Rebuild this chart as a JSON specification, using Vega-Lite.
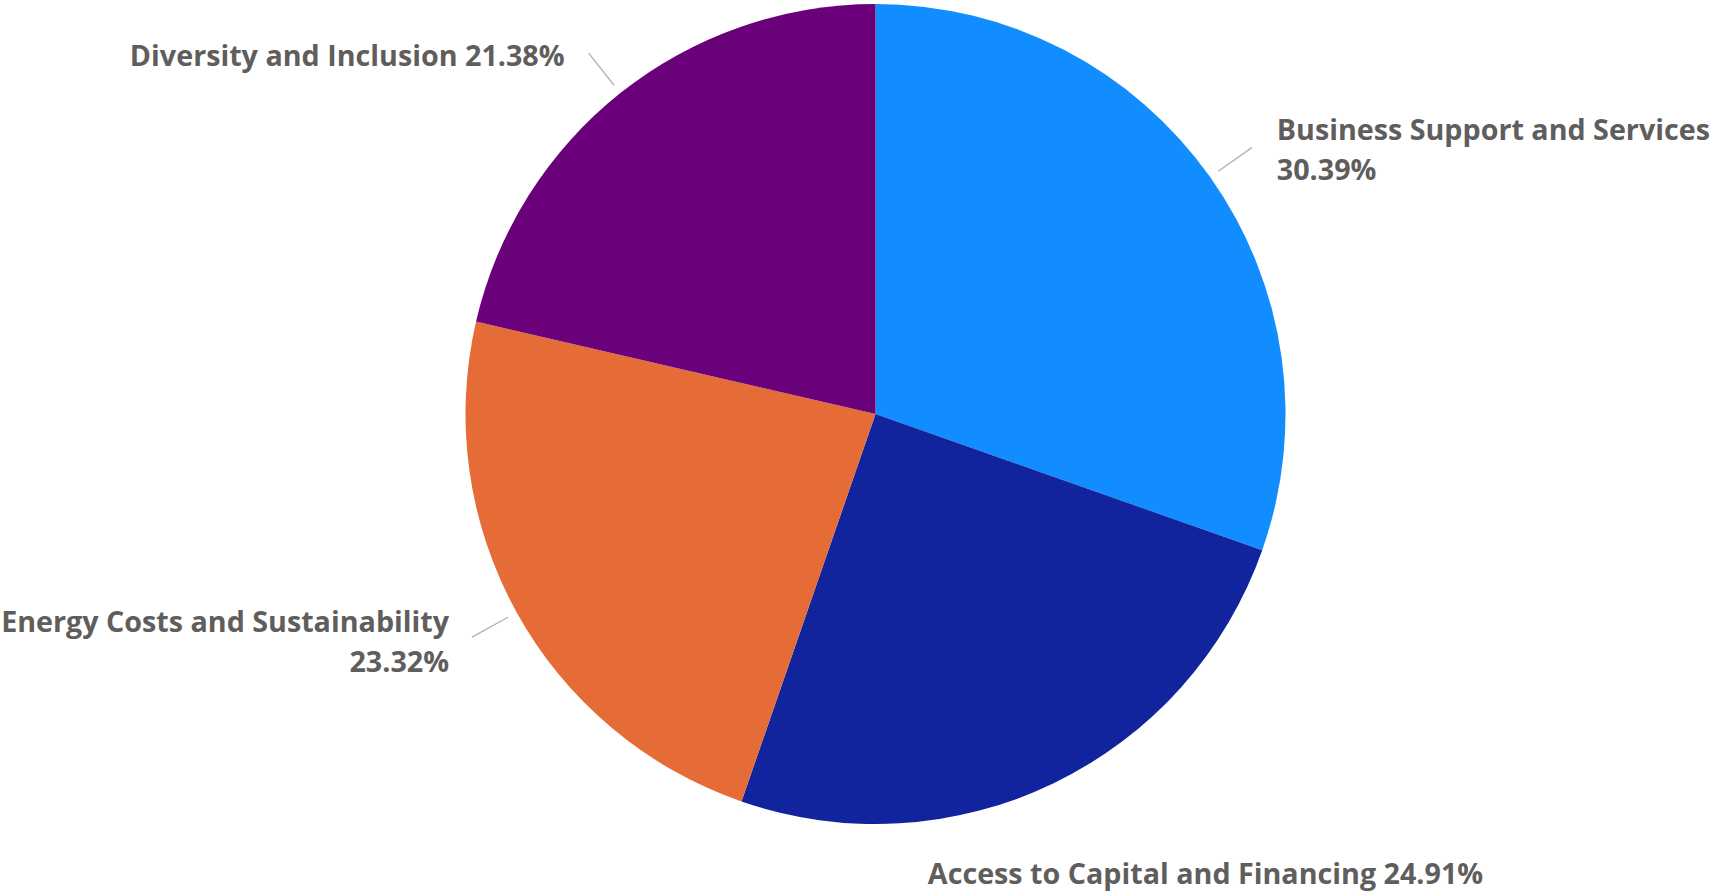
{
  "$schema": "https://vega.github.io/schema/vega-lite/v6.json",
  "width": 1681,
  "height": 828,
  "padding": {"left": 35, "top": 0, "right": 0, "bottom": 65},
  "autosize": {"type": "none"},
  "background": "white",
  "config": {"view": {"stroke": null}},
  "data": {
    "values": [
      {"category": "Business Support and Services", "share": 0.3039, "rank": 1, "label": "Business Support and Services\n30.39%"},
      {"category": "Access to Capital and Financing", "share": 0.2491, "rank": 2, "label": "Access to Capital and Financing 24.91%"},
      {"category": "Energy Costs and Sustainability", "share": 0.2332, "rank": 3, "label": "Energy Costs and Sustainability\n23.32%"},
      {"category": "Diversity and Inclusion", "share": 0.2138, "rank": 4, "label": "Diversity and Inclusion 21.38%"}
    ]
  },
  "encoding": {
    "theta": {"field": "share", "type": "quantitative", "stack": true},
    "order": {"field": "rank", "type": "quantitative", "sort": "ascending"}
  },
  "layer": [
    {
      "mark": {"type": "arc", "outerRadius": 410},
      "encoding": {
        "color": {
          "field": "category",
          "type": "nominal",
          "scale": {
            "domain": ["Business Support and Services", "Access to Capital and Financing", "Energy Costs and Sustainability", "Diversity and Inclusion"],
            "range": ["#118DFF", "#12239E", "#E66C37", "#6B007B"]
          },
          "legend": null
        }
      }
    },
    {
      "mark": {"type": "arc", "outerRadius": 461, "innerRadius": 420, "padAngle": 3, "fill": "transparent", "stroke": "#B3B0AD", "strokeWidth": 1.3},
      "encoding": {
        "strokeOpacity": {"condition": {"test": "datum.category === 'Access to Capital and Financing'", "value": 0}, "value": 1}
      }
    },
    {
      "mark": {"type": "text", "radius": 461, "align": "left", "baseline": "middle", "dx": 25, "dy": -17, "font": "Open Sans", "fontSize": 28.7, "fontWeight": "bold", "fill": "#605E5C", "lineBreak": "\n", "lineHeight": 40},
      "encoding": {
        "text": {"condition": {"test": "datum.category === 'Business Support and Services'", "field": "label"}, "value": ""}
      }
    },
    {
      "mark": {"type": "text", "radius": 461, "align": "left", "baseline": "middle", "dx": -148, "dy": 46, "font": "Open Sans", "fontSize": 28.7, "fontWeight": "bold", "fill": "#605E5C", "lineBreak": "\n", "lineHeight": 40},
      "encoding": {
        "text": {"condition": {"test": "datum.category === 'Access to Capital and Financing'", "field": "label"}, "value": ""}
      }
    },
    {
      "mark": {"type": "text", "radius": 461, "align": "right", "baseline": "middle", "dx": -23, "dy": -14, "font": "Open Sans", "fontSize": 28.7, "fontWeight": "bold", "fill": "#605E5C", "lineBreak": "\n", "lineHeight": 40},
      "encoding": {
        "text": {"condition": {"test": "datum.category === 'Energy Costs and Sustainability'", "field": "label"}, "value": ""}
      }
    },
    {
      "mark": {"type": "text", "radius": 461, "align": "right", "baseline": "middle", "dx": -24, "dy": 4, "font": "Open Sans", "fontSize": 28.7, "fontWeight": "bold", "fill": "#605E5C", "lineBreak": "\n", "lineHeight": 40},
      "encoding": {
        "text": {"condition": {"test": "datum.category === 'Diversity and Inclusion'", "field": "label"}, "value": ""}
      }
    }
  ]
}
